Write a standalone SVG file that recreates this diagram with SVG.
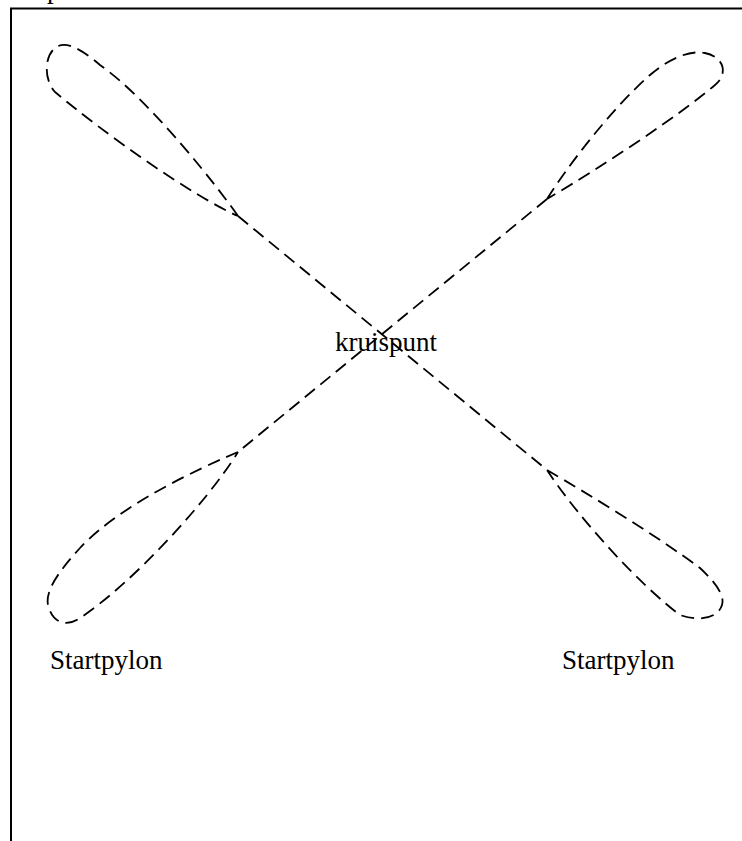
<svg xmlns="http://www.w3.org/2000/svg" width="742" height="841" viewBox="0 0 742 841">
<style>
.dash{fill:none;stroke:#000;stroke-width:1.8;stroke-dasharray:13,7;stroke-linejoin:round}
.lbl{font-family:"Liberation Serif","Times New Roman",serif;font-size:27px;fill:#000}
</style>
<rect width="742" height="841" fill="#fff"/>
<text class="lbl" x="47" y="-2">p</text>
<path d="M11,845 V8.5 H745" fill="none" stroke="#000" stroke-width="2"/>
<g id="connectors">
<path class="dash" d="M238,216 L547,470"/>
<path class="dash" d="M547,199 L238,452"/>
</g>
<g id="loop-tl">
<path class="dash" d="M238,216 C220,190 150,100 100,65 C80,48 65,40 55,48 C44,57 44,80 55,92 C100,130 190,195 238,216"/>
</g>
<g id="loop-tr">
<path class="dash" d="M547,199 C565,170 610,110 650,75 C670,58 690,50 705,53 C725,57 728,75 715,85 C680,115 600,168 547,199"/>
</g>
<g id="loop-bl">
<path class="dash" d="M238,452 C200,468 120,505 80,548 C60,570 45,590 48,605 C52,622 65,628 80,618 C130,585 205,505 238,452"/>
</g>
<g id="loop-br">
<path class="dash" d="M547,470 C590,495 660,538 700,568 C715,582 725,595 722,605 C718,618 700,622 680,615 C640,585 580,520 547,470"/>
</g>
<g id="kruispunt">
<text class="lbl" x="335" y="351">kruispunt</text>
</g>
<g id="startpylon-left">
<text class="lbl" x="50" y="669">Startpylon</text>
</g>
<g id="startpylon-right">
<text class="lbl" x="562" y="669">Startpylon</text>
</g>
</svg>
